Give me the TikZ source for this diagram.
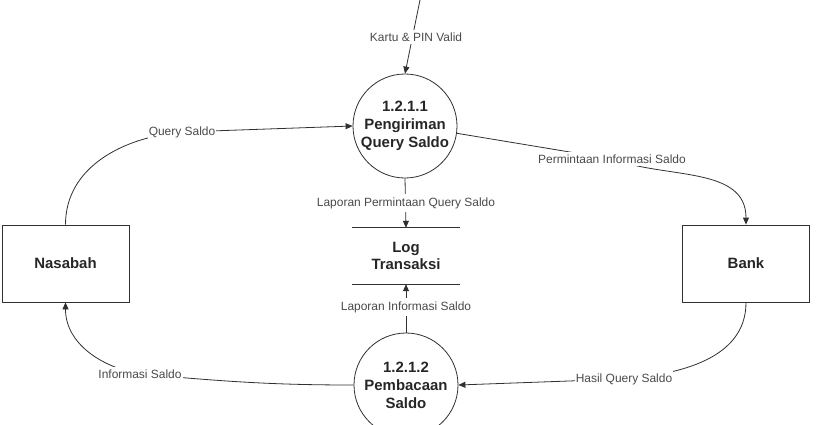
\documentclass[tikz,border=0pt]{standalone}
\usepackage{fontspec}
\setmainfont{Liberation Sans}
\usetikzlibrary{arrows.meta}
\definecolor{linegray}{HTML}{303030}
\definecolor{labelgray}{HTML}{4A4A4A}

\begin{document}
\begin{tikzpicture}[
    x=1bp, y=-1bp,
    process node/.style={circle, draw=linegray, line width=0.8bp, minimum size=104bp, inner sep=0pt,
        align=center, font=\fontsize{15}{18}\selectfont\bfseries, text=black!85},
    entity node/.style={rectangle, draw=linegray, line width=0.8bp, minimum width=127bp, minimum height=77bp,
        font=\fontsize{15}{18}\selectfont\bfseries, text=black!85},
    store node/.style={minimum width=107bp, minimum height=56bp, inner sep=0pt,
        align=center, font=\fontsize{15}{17}\selectfont\bfseries, text=black!85},
    flow label/.style={fill=white, inner xsep=1bp, inner ysep=3bp, font=\fontsize{12}{14}\selectfont, text=labelgray},
    flow line/.style={draw=linegray, line width=0.8bp, -{Triangle[length=7bp,width=6bp]}}
]

%================FRAME================
\useasboundingbox (0,0) rectangle (823,424);

% --- 1. Processes, entities, store ---
\node[process node] (P1) at (405,126) {1.2.1.1\\Pengiriman\\Query Saldo};
\node[process node] (P2) at (406,385) {1.2.1.2\\Pembacaan\\Saldo};
\node[entity node] (Nas) at (65.5,263.5) {Nasabah};
\node[entity node] (Bank) at (746,263.5) {Bank};
\node[store node] (Log) at (406,256) {Log\\Transaksi};
\draw[linegray, line width=0.8bp] (Log.north west) -- (Log.north east)
    (Log.south west) -- (Log.south east);

% --- 2. Label points ---
\coordinate (In) at (420,0);
\coordinate (kpL) at (416,37);
\coordinate (qsL) at (182,132);
\coordinate (piL) at (612,159);
\coordinate (lpL) at (406,203);
\coordinate (liL) at (406,307);
\coordinate (hqL) at (624,379);
\coordinate (isL) at (140,374);

% --- 3. Data flows ---
\draw[flow line] (In) -- (P1.north);
\draw[flow line] (Nas.north) to[out=90, in=185] (qsL) -- (P1.west);
\draw[flow line] (P1.-8) -- (piL) to[out=-20, in=90] (Bank.north);
\draw[flow line] (P1.south) -- (Log.north);
\draw[flow line] (P2.north) -- (Log.south);
\draw[flow line] (Bank.south) to[out=-90, in=5] (hqL) -- (P2.east);
\draw[flow line] (P2.west) to[out=180, in=-5] (isL) to[out=170, in=-90] (Nas.south);

% --- 4. Flow labels ---
\node[flow label] (kp) at (kpL) {Kartu \& PIN Valid};
\node[flow label] (qs) at (qsL) {Query Saldo};
\node[flow label] (pi) at (piL) {Permintaan Informasi Saldo};
\node[flow label] (lp) at (lpL) {Laporan Permintaan Query Saldo};
\node[flow label] (li) at (liL) {Laporan Informasi Saldo};
\node[flow label] (hq) at (hqL) {Hasil Query Saldo};
\node[flow label] (is) at (isL) {Informasi Saldo};

\end{tikzpicture}
\end{document}
